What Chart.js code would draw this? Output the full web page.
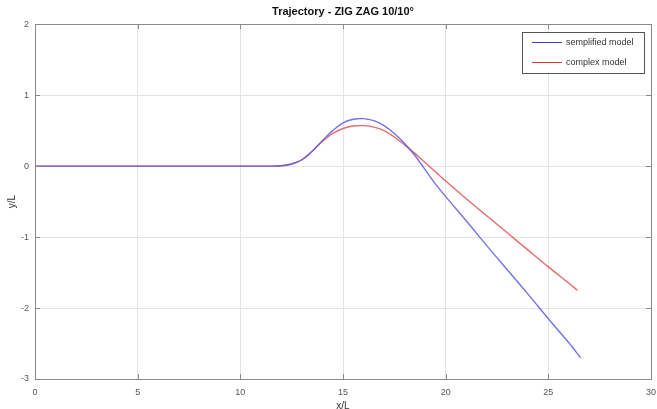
<!DOCTYPE html>
<html>
<head>
<meta charset="utf-8">
<script src="https://cdn.jsdelivr.net/npm/chart.js@4/dist/chart.umd.min.js"></script>
<style>
  html, body { margin: 0; padding: 0; background: #fff; }
  #wrap { width: 657px; height: 409px; }
</style>
</head>
<body>
<div id="wrap"><canvas id="traj" width="657" height="409"></canvas></div>
<script>
// dati (x/L, y/L)
const simpX = [0, 5, 10, 11.5, 12, 12.5, 13, 13.5, 14, 14.5, 15, 15.5, 16, 16.5, 17, 17.5, 18, 18.5, 19, 19.5, 20, 21, 22, 23, 24, 25, 26, 26.57];
const simpY = [0, 0, 0, 0, 0.005, 0.03, 0.09, 0.21, 0.36, 0.50, 0.61, 0.66, 0.67, 0.64, 0.57, 0.46, 0.32, 0.15, -0.05, -0.25, -0.43, -0.77, -1.12, -1.46, -1.80, -2.15, -2.49, -2.70];
const compX = [0, 5, 10, 11.5, 12, 12.5, 13, 13.5, 14, 14.5, 15, 15.5, 16, 16.5, 17, 17.5, 18, 18.5, 19, 19.5, 20, 21, 22, 23, 24, 25, 26, 26.42];
const compY = [0, 0, 0, 0, 0.005, 0.03, 0.09, 0.21, 0.35, 0.46, 0.53, 0.565, 0.57, 0.55, 0.50, 0.41, 0.30, 0.18, 0.05, -0.08, -0.21, -0.46, -0.70, -0.94, -1.18, -1.42, -1.65, -1.75];

const xTicks = [0, 5, 10, 15, 20, 25, 30];
const yTicks = [2, 1, 0, -1, -2, -3];

const seriesNames = ['semplified model', 'complex model'];
const seriesColors = ['rgba(90, 90, 225, 0.85)', 'rgba(228, 80, 80, 0.85)'];
const legendColors = ['#3a3acc', '#d83a3a'];

function toPoints(xs, ys) {
    return xs.map((x, i) => ({ x: x, y: ys[i] }));
}

// cornice stile matlab + tacche interne + legenda
const framePlugin = {
    id: 'frame',
    afterDatasetsDraw(chart) {
        const { ctx, chartArea: a, scales } = chart;
        ctx.save();
        ctx.strokeStyle = '#8a8a8a';
        ctx.lineWidth = 1;
        ctx.strokeRect(Math.round(a.left) + 0.5, Math.round(a.top) + 0.5, Math.round(a.right - a.left), Math.round(a.bottom - a.top));

        ctx.beginPath();
        xTicks.forEach(v => {
            const px = Math.round(scales.x.getPixelForValue(v)) + 0.5;
            ctx.moveTo(px, a.bottom); ctx.lineTo(px, a.bottom - 5);
            ctx.moveTo(px, a.top); ctx.lineTo(px, a.top + 5);
        });
        yTicks.forEach(v => {
            const py = Math.round(scales.y.getPixelForValue(v)) + 0.5;
            ctx.moveTo(a.left, py); ctx.lineTo(a.left + 5, py);
            ctx.moveTo(a.right, py); ctx.lineTo(a.right - 5, py);
        });
        ctx.stroke();

        // legenda
        const lx = 522, ly = 32, lw = 122, lh = 41;
        ctx.fillStyle = '#fff';
        ctx.fillRect(lx, ly, lw, lh);
        ctx.strokeStyle = '#555';
        ctx.strokeRect(lx + 0.5, ly + 0.5, lw, lh);
        ctx.font = '9px "Liberation Sans", Arial, sans-serif';
        ctx.textBaseline = 'middle';
        seriesNames.forEach((name, i) => {
            const y = ly + 10 + i * 20 + 0.5;
            ctx.strokeStyle = legendColors[i];
            ctx.beginPath();
            ctx.moveTo(lx + 10, y); ctx.lineTo(lx + 40, y);
            ctx.stroke();
            ctx.fillStyle = '#333';
            ctx.fillText(name, lx + 44, y);
        });
        ctx.restore();
    }
};

const ctx = document.getElementById('traj').getContext('2d');
new Chart(ctx, {
    type: 'scatter',
    data: {
        datasets: [
            {
                label: seriesNames[0],
                data: toPoints(simpX, simpY),
                showLine: true,
                borderColor: seriesColors[0],
                borderWidth: 1.4,
                pointRadius: 0,
                tension: 0.35
            },
            {
                label: seriesNames[1],
                data: toPoints(compX, compY),
                showLine: true,
                borderColor: seriesColors[1],
                borderWidth: 1.4,
                pointRadius: 0,
                tension: 0.35
            }
        ]
    },
    options: {
        responsive: false,
        animation: false,
        layout: { padding: { left: 0, right: 6, top: 0, bottom: 0 } },
        plugins: {
            legend: { display: false },
            tooltip: { enabled: false },
            title: {
                display: true,
                fullSize: false,
                text: 'Trajectory - ZIG ZAG 10/10°',
                color: '#111',
                font: { family: '"Liberation Sans", Arial, sans-serif', size: 11, weight: 'bold' },
                padding: { top: 5, bottom: 6 }
            }
        },
        scales: {
            x: {
                type: 'linear',
                min: 0,
                max: 30,
                afterBuildTicks: s => { s.ticks = xTicks.map(v => ({ value: v })); },
                afterFit: s => { s.height = 30; s.paddingRight = 0; s.paddingLeft = 0; },
                grid: { color: '#e4e4e4', drawTicks: false },
                border: { display: false },
                ticks: { color: '#555', padding: 8, maxRotation: 0, font: { family: '"Liberation Sans", Arial, sans-serif', size: 9 } },
                title: { display: true, text: 'x/L', color: '#333', padding: { top: 0, bottom: -3 }, font: { family: '"Liberation Sans", Arial, sans-serif', size: 10 } }
            },
            y: {
                type: 'linear',
                min: -3,
                max: 2,
                afterBuildTicks: s => { s.ticks = yTicks.map(v => ({ value: v })); },
                afterFit: s => { s.width = 35; s.paddingTop = 0; s.paddingBottom = 0; },
                grid: { color: '#e4e4e4', drawTicks: false },
                border: { display: false },
                ticks: { color: '#555', padding: 6, font: { family: '"Liberation Sans", Arial, sans-serif', size: 9 } },
                title: { display: true, text: 'y/L', color: '#333', padding: { top: 6, bottom: 0 }, font: { family: '"Liberation Sans", Arial, sans-serif', size: 10 } }
            }
        }
    },
    plugins: [framePlugin]
});
</script>
</body>
</html>
